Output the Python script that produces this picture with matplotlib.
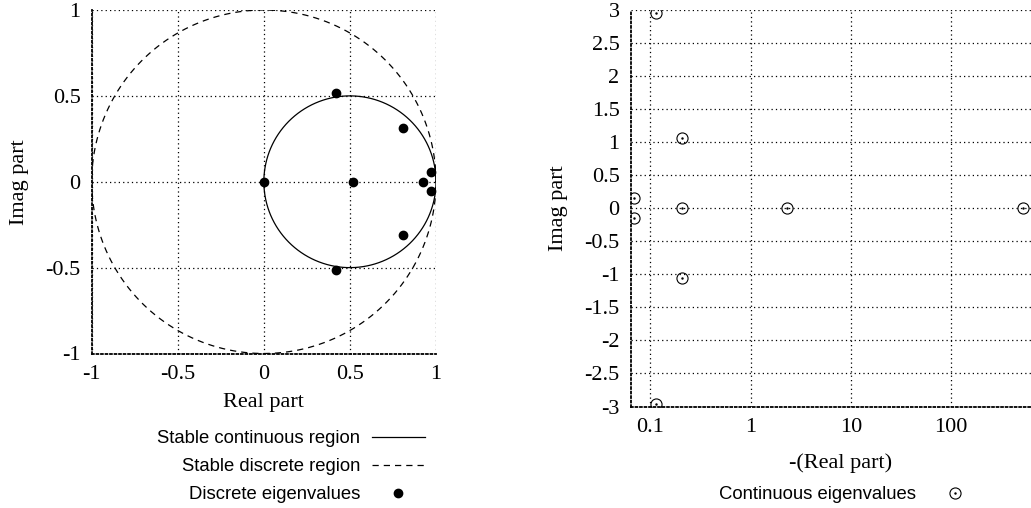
import numpy as np
import matplotlib

matplotlib.use("Agg")
import matplotlib.pyplot as plt
from matplotlib.path import Path
from matplotlib.ticker import FixedLocator, FixedFormatter, NullLocator

# discrete eigenvalues (z-plane)
disc_re = [0.0, 0.52, 0.419, 0.419, 0.806, 0.806, 0.922, 0.97, 0.97]
disc_im = [0.0, 0.0, 0.515, -0.514, 0.311, -0.31, 0.0, 0.058, -0.055]

# continuous eigenvalues, x = -(real part)
cont_negre = [0.115, 0.115, 0.207, 0.207, 0.207, 0.0692, 0.0692, 2.32, 518.0]
cont_im = [2.96, -2.96, 1.06, 0.0, -1.05, 0.152, -0.152, 0.0, 0.0]

left_ticks = [-1, -0.5, 0, 0.5, 1]
left_labels = ["-1", "-0.5", "0", "0.5", "1"]
right_yticks = [3, 2.5, 2, 1.5, 1, 0.5, 0, -0.5, -1, -1.5, -2, -2.5, -3]
right_ylabels = ["3", "2.5", "2", "1.5", "1", "0.5", "0", "-0.5", "-1", "-1.5", "-2", "-2.5", "-3"]
right_xticks = [0.1, 1, 10, 100]
right_xlabels = ["0.1", "1", "10", "100"]

SERIF = "Liberation Serif"
SANS = "Liberation Sans"
plt.rcParams["axes.unicode_minus"] = False

W, H = 1031, 508
fig = plt.figure(figsize=(W / 100, H / 100), dpi=100)


def px_axes(x0, y0, x1, y1):
    return fig.add_axes([x0 / W, 1 - y1 / H, (x1 - x0) / W, (y1 - y0) / H])


def style(ax):
    ax.grid(True, color="black", linestyle=(0, (1, 2.5)), linewidth=0.9)
    for s in ax.spines.values():
        s.set_linestyle((0, (1, 1.5)))
        s.set_linewidth(1.3)
    for sp in ["top", "right"]:
        ax.spines[sp].set_visible(False)
    ax.tick_params(length=0, labelsize=16, pad=8)
    for lab in ax.get_xticklabels() + ax.get_yticklabels():
        lab.set_fontfamily(SERIF)
    ax.set_axisbelow(True)


# circle with a small dot in the middle (gnuplot style point)
circ = Path.unit_circle()
dot = Path.circle((0, 0), 0.12)
odot = Path.make_compound_path(circ, dot)

# ---- left: discrete plane ----
ax1 = px_axes(91.7, 10, 436, 353.5)
th = np.linspace(0, 2 * np.pi, 400)
ax1.plot(0.5 + 0.5 * np.cos(th), 0.5 * np.sin(th), color="black", lw=0.9,
         label="Stable continuous region")
ax1.plot(np.cos(th), np.sin(th), color="black", lw=0.9, linestyle=(0, (5, 4)),
         label="Stable discrete region")
ax1.plot(disc_re, disc_im, "o", color="black", markersize=6, linestyle="none",
         label="Discrete eigenvalues", zorder=4)
ax1.set_xlim(-1, 1)
ax1.set_ylim(-1, 1)
ax1.xaxis.set_major_locator(FixedLocator(left_ticks))
ax1.xaxis.set_major_formatter(FixedFormatter(left_labels))
ax1.yaxis.set_major_locator(FixedLocator(left_ticks))
ax1.yaxis.set_major_formatter(FixedFormatter(left_labels))
style(ax1)
ax1.set_xlabel("Real part", fontsize=16, family=SERIF, labelpad=7)
ax1.set_ylabel("Imag part", fontsize=16, family=SERIF, labelpad=12)

leg1 = ax1.legend(loc="upper right", bbox_to_anchor=(425 / W, 1 - 430 / H),
                  bbox_transform=fig.transFigure, frameon=False, markerfirst=False,
                  prop={"family": SANS, "size": 13.3}, handlelength=2.87,
                  handletextpad=0.65, labelspacing=0.6, borderpad=0, borderaxespad=0)

# ---- right: continuous plane ----
ax2 = px_axes(630.7, 10, 1051.3, 406.5)
ax2.plot(cont_negre, cont_im, marker=odot, color="black", markersize=8,
         markerfacecolor="none", markeredgewidth=0.8,
         linestyle="none", label="Continuous eigenvalues", zorder=4)
ax2.set_xscale("log")
ax2.set_xlim(10 ** -1.195, 1000)
ax2.set_ylim(-3, 3)
ax2.xaxis.set_major_locator(FixedLocator(right_xticks))
ax2.xaxis.set_major_formatter(FixedFormatter(right_xlabels))
ax2.xaxis.set_minor_locator(NullLocator())
ax2.yaxis.set_major_locator(FixedLocator(right_yticks))
ax2.yaxis.set_major_formatter(FixedFormatter(right_ylabels))
style(ax2)
ax2.set_xlabel("-(Real part)", fontsize=16, family=SERIF, labelpad=12)
ax2.set_ylabel("Imag part", fontsize=16, family=SERIF, labelpad=12)

leg2 = ax2.legend(loc="upper right", bbox_to_anchor=(981.5 / W, 1 - 486 / H),
                  bbox_transform=fig.transFigure, frameon=False, markerfirst=False,
                  prop={"family": SANS, "size": 13.3}, handlelength=2.87,
                  handletextpad=0.65, borderpad=0, borderaxespad=0)

fig.savefig("out.png", dpi=100)
